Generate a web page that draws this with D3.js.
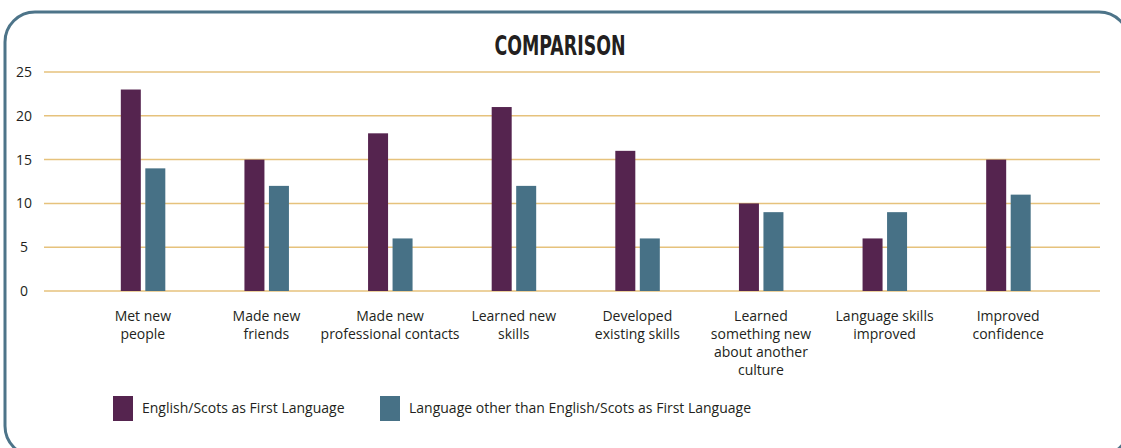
<!DOCTYPE html>
<html>
<head>
<meta charset="utf-8">
<style>
    body { margin: 0; background: #fff; }
    svg { display: block; font-family: "Open Sans", "Noto Sans", sans-serif; }
    .title { font-family: "Liberation Sans Narrow", "DejaVu Sans Condensed", sans-serif; font-weight: bold; font-size: 27px; fill: #231f20; }
    .lbl { font-size: 14px; fill: #231f20; }
</style>
</head>
<body>
<svg width="1121" height="448"></svg>
<script src="https://d3js.org/d3.v7.min.js"></script>
<script>
    // data
    const categories = [
        ["Met new", "people"],
        ["Made new", "friends"],
        ["Made new", "professional contacts"],
        ["Learned new", "skills"],
        ["Developed", "existing skills"],
        ["Learned", "something new", "about another", "culture"],
        ["Language skills", "improved"],
        ["Improved", "confidence"]
    ];
    const seriesNames = ["English/Scots as First Language", "Language other than English/Scots as First Language"];
    const englishScots = [23, 15, 18, 21, 16, 10, 6, 15];
    const otherLang = [14, 12, 6, 12, 6, 9, 9, 11];
    const yTicks = [0, 5, 10, 15, 20, 25];

    const purple = "#55244f", teal = "#477186";

    let svg = d3.select("svg");

    // rounded frame
    svg.append("rect")
        .attr("x", 5).attr("y", 12)
        .attr("width", 1124).attr("height", 444)
        .attr("rx", 30)
        .attr("fill", "none")
        .attr("stroke", "#4d7489")
        .attr("stroke-width", 3);

    svg.append("text")
        .attr("class", "title")
        .attr("x", 560).attr("y", 55)
        .attr("text-anchor", "middle")
        .attr("textLength", 131)
        .attr("lengthAdjust", "spacingAndGlyphs")
        .text("COMPARISON");

    let y = d3.scaleLinear().domain([0, 25]).range([291, 72]);
    let x = d3.scaleBand().domain(d3.range(categories.length)).range([81, 1070]);

    // gridlines
    svg.append("g").selectAll("line")
        .data(yTicks)
        .join("line")
        .attr("x1", 44).attr("x2", 1100)
        .attr("y1", d => y(d)).attr("y2", d => y(d))
        .attr("stroke", "#e6c27c")
        .attr("stroke-width", 1.5);

    svg.append("g").selectAll("text")
        .data(yTicks)
        .join("text")
        .attr("class", "lbl")
        .attr("x", 24)
        .attr("y", d => y(d) + 5)
        .attr("text-anchor", "middle")
        .text(d => d);

    let barW = 20, gap = 5;
    let groups = svg.append("g").selectAll("g")
        .data(categories)
        .join("g")
        .attr("transform", (d, i) => `translate(${x(i) + x.bandwidth() / 2},0)`);

    groups.append("rect")
        .attr("x", -barW - gap / 2 + 0.5)
        .attr("y", (d, i) => y(englishScots[i]))
        .attr("width", barW)
        .attr("height", (d, i) => y(0) - y(englishScots[i]))
        .attr("fill", purple);

    groups.append("rect")
        .attr("x", gap / 2)
        .attr("y", (d, i) => y(otherLang[i]))
        .attr("width", barW)
        .attr("height", (d, i) => y(0) - y(otherLang[i]))
        .attr("fill", teal);

    groups.append("text")
        .attr("class", "lbl")
        .attr("text-anchor", "middle")
        .selectAll("tspan")
        .data(d => d)
        .join("tspan")
        .attr("x", 0)
        .attr("y", (d, i) => 321 + i * 18)
        .text(d => d);

    // legend
    let legend = svg.append("g").selectAll("g")
        .data(seriesNames)
        .join("g")
        .attr("transform", (d, i) => `translate(${i === 0 ? 113 : 380},396)`);

    legend.append("rect")
        .attr("width", 20).attr("height", 25)
        .attr("fill", (d, i) => i === 0 ? purple : teal);

    legend.append("text")
        .attr("class", "lbl")
        .attr("x", 29).attr("y", 17)
        .text(d => d);
</script>
</body>
</html>
